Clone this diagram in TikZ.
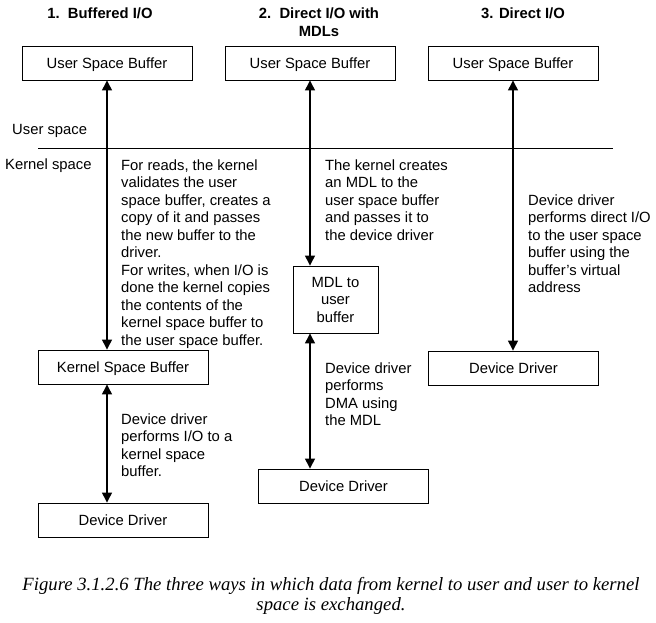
\documentclass[tikz,border=0pt]{standalone}
\usepackage{fontspec}
\setmainfont{Liberation Sans}
\newfontfamily\captionserif{Liberation Serif}
\usetikzlibrary{arrows.meta,positioning}
\newcommand{\bodysize}{\fontsize{14.8}{17.5}\selectfont}

\begin{document}
\begin{tikzpicture}[x=1pt, y=-1pt,
    bufferbox/.style={rectangle, draw=black, line width=0.9pt, minimum width=170pt,
                 minimum height=34pt, inner sep=0pt, text depth=0pt, font=\bodysize},
    note/.style={anchor=north west, align=left, inner sep=0pt, font=\bodysize},
    heading/.style={anchor=north, align=center, inner sep=0pt, font=\bodysize\bfseries},
    arr/.style={{Triangle[length=10pt,width=10pt]}-{Triangle[length=10pt,width=10pt]}, line width=1.3pt},
  ]
    \useasboundingbox (0,0) rectangle (656,622);

    % column headings
    \node[heading] (head1) at (100, 8)  {1.\ \ Buffered I/O};
    \node[heading] (head2) at (319, 8)  {2.\ \ Direct I/O with\\MDLs};
    \node[heading] (head3) at (523, 8)  {3. Direct I/O};

    % user space buffers
    \node[bufferbox] (usb1) at (107, 63) {User Space Buffer};
    \node[bufferbox] (usb2) at (310, 63) {User Space Buffer};
    \node[bufferbox] (usb3) at (513, 63) {User Space Buffer};

    % user / kernel boundary
    \node[note] (userlbl) at (12, 124.5)  {User space};
    \node[note] (kernlbl) at (5, 158.5)   {Kernel space};
    \coordinate (sepL) at (38, 148);
    \coordinate (sepR) at (613, 148);
    \draw[line width=0.9pt] (sepL) -- (sepR);

    % 1. buffered
    \node[bufferbox] (ksb) at (123, 367) {Kernel Space Buffer};
    \node[bufferbox] (dd1) at (123, 520) {Device Driver};
    \node[note] (txt1) at (121, 159.5) {For reads, the kernel\\validates the user\\space buffer, creates a\\copy of it and passes\\the new buffer to the\\driver.\\For writes, when I/O is\\done the kernel copies\\the contents of the\\kernel space buffer to\\the user space buffer.};
    \node[note] (txt1b) at (121, 413.5) {Device driver\\performs I/O to a\\kernel space\\buffer.};
    \draw[arr] (usb1.south) -- (usb1.south |- ksb.north);
    \draw[arr] (usb1.south |- ksb.south) -- (usb1.south |- dd1.north);

    % 2. direct with MDLs
    \node[bufferbox, minimum width=85pt, minimum height=67pt, text depth=, align=center] (mdl) at (335.5, 299.5) {MDL to\\user\\buffer};
    \node[bufferbox] (dd2) at (343.5, 486) {Device Driver};
    \node[note] (txt2) at (325, 159.5) {The kernel creates\\an MDL to the\\user space buffer\\and passes it to\\the device driver};
    \node[note] (txt2b) at (325, 362.5) {Device driver\\performs\\DMA using\\the MDL};
    \draw[arr] (usb2.south) -- (usb2.south |- mdl.north);
    \draw[arr] (usb2.south |- mdl.south) -- (usb2.south |- dd2.north);

    % 3. direct
    \node[bufferbox] (dd3) at (513.5, 368) {Device Driver};
    \node[note] (txt3) at (528, 194.5) {Device driver\\performs direct I/O\\to the user space\\buffer using the\\buffer's virtual\\address};
    \draw[arr] (usb3.south) -- (usb3.south |- dd3.north);

    % caption
    \node[anchor=north, align=center, inner sep=0pt, font=\captionserif\itshape\fontsize{18.7}{20}\selectfont] (caption) at (331, 577)
      {Figure 3.1.2.6 The three ways in which data from kernel to user and user to kernel\\space is exchanged.};
  \end{tikzpicture}
\end{document}
